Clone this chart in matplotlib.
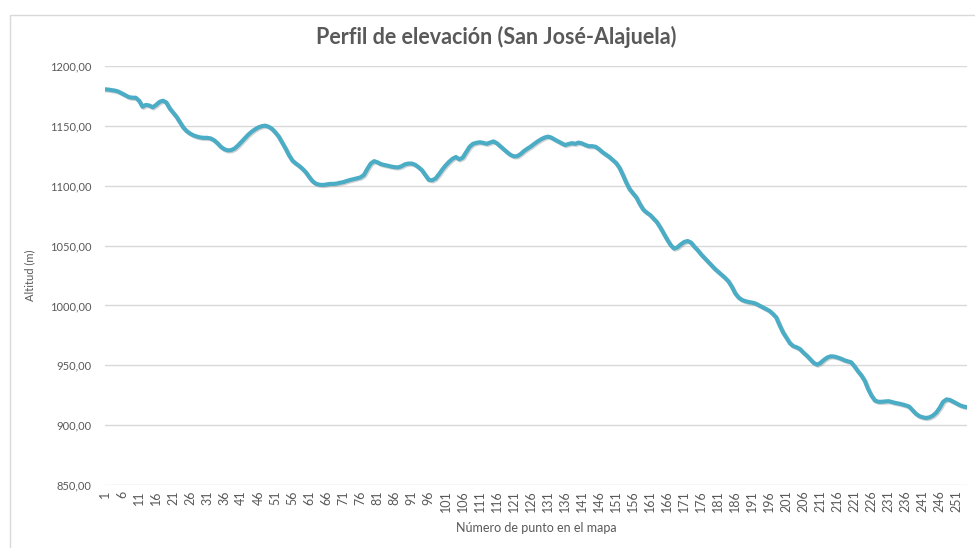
import matplotlib
matplotlib.use('Agg')
import matplotlib.pyplot as plt
import matplotlib.patheffects as pe
from matplotlib.ticker import FuncFormatter
from matplotlib.patches import Rectangle

# Elevation, point 1..254
elevation = [
    1180.5, 1180.3, 1179.8, 1179.4, 1178.5, 1177.0, 1175.5, 1174.0, 1173.5, 1173.5,
    1171.0, 1166.0, 1167.5, 1167.0, 1165.5, 1167.5, 1170.0, 1171.0, 1169.5, 1164.5,
    1161.0, 1157.5, 1153.0, 1148.5, 1145.5, 1143.5, 1142.0, 1141.0, 1140.3, 1140.0,
    1140.0, 1139.5, 1138.0, 1135.5, 1132.5, 1130.5, 1129.5, 1129.7, 1131.0, 1133.5,
    1136.5, 1139.5, 1142.5, 1145.0, 1147.0, 1148.7, 1149.7, 1150.2, 1149.3, 1147.5,
    1144.5, 1141.0, 1136.0, 1131.0, 1125.5, 1121.0, 1118.5, 1116.5, 1114.0, 1111.0,
    1107.0, 1103.5, 1101.5, 1100.8, 1100.6, 1101.0, 1101.5, 1101.5, 1101.8, 1102.5,
    1103.0, 1104.0, 1104.8, 1105.5, 1106.2, 1107.0, 1109.0, 1114.0, 1118.5, 1120.5,
    1119.5, 1118.0, 1117.3, 1116.7, 1116.0, 1115.5, 1115.3, 1116.2, 1117.8, 1118.5,
    1118.5, 1117.5, 1115.5, 1113.0, 1109.0, 1105.0, 1104.5, 1106.0, 1109.5, 1113.5,
    1117.0, 1120.0, 1122.5, 1124.0, 1122.0, 1123.5, 1128.0, 1132.5, 1135.0, 1135.8,
    1136.3, 1135.8, 1135.0, 1136.0, 1137.0, 1135.5, 1133.0, 1130.5, 1128.0, 1125.8,
    1124.5, 1124.7, 1126.5, 1129.0, 1131.0, 1132.8, 1135.0, 1137.0, 1138.8, 1140.2,
    1141.0, 1140.2, 1138.5, 1137.0, 1135.5, 1134.0, 1134.8, 1135.5, 1135.0, 1136.0,
    1135.3, 1134.0, 1133.0, 1133.0, 1132.5, 1130.5, 1128.0, 1126.0, 1124.0, 1121.5,
    1119.0, 1115.0, 1109.0, 1102.5, 1097.0, 1093.5, 1090.0, 1084.5, 1080.0, 1077.5,
    1075.5, 1072.5, 1069.5, 1065.0, 1060.0, 1055.0, 1050.5, 1047.5, 1048.5, 1051.0,
    1053.0, 1053.8, 1052.5, 1049.0, 1046.0, 1042.5, 1039.5, 1036.5, 1033.5, 1030.5,
    1028.0, 1025.5, 1023.0, 1020.0, 1015.5, 1010.0, 1006.5, 1004.5, 1003.5, 1002.8,
    1002.3, 1001.5, 1000.0, 998.5, 997.0, 995.5, 993.0, 990.0, 983.5, 977.5,
    973.0, 968.5, 966.0, 965.0, 963.5, 960.5, 958.0, 955.0, 952.0, 950.5,
    952.0, 954.5, 956.5, 957.5, 957.3, 956.5, 955.5, 954.2, 953.3, 952.5,
    949.0, 945.0, 941.5, 937.0, 930.0, 924.5, 920.5, 919.5, 919.5, 919.8,
    920.0, 919.3, 918.5, 918.0, 917.3, 916.5, 915.5, 912.5, 909.5, 907.5,
    906.5, 906.0, 906.5, 908.0, 910.5, 914.5, 919.5, 921.5, 921.0, 919.5,
    918.0, 916.5, 915.5, 915.0,
]
points = list(range(1, len(elevation) + 1))
tick_points = points[::5]
y_ticks = [850, 900, 950, 1000, 1050, 1100, 1150, 1200]

plt.rcParams['font.family'] = ['Lato', 'DejaVu Sans']
text_grey = '#595959'

fig = plt.figure(figsize=(9.75, 5.48), dpi=100)
fig.patches.append(Rectangle((10 / 975, -0.1), 1.2, (548 - 15) / 548 + 0.1,
                             transform=fig.transFigure, fill=False,
                             edgecolor='#D9D9D9', linewidth=1))

ax = fig.add_axes([105 / 975, 1 - 485 / 548, (967 - 105) / 975, (485 - 66) / 548])
ax.plot(points, elevation, color='#4BACC6', linewidth=3.0, solid_capstyle='round',
        path_effects=[pe.SimpleLineShadow(offset=(0.8, -0.8), shadow_color='#7f7f7f', alpha=0.35),
                      pe.Normal()])

ax.set_xlim(1, len(elevation))
ax.set_ylim(850, 1200)
ax.set_yticks(y_ticks)
ax.yaxis.set_major_formatter(FuncFormatter(lambda v, p: f'{v:.2f}'.replace('.', ',')))
ax.set_xticks(tick_points)
ax.set_xticklabels([str(t) for t in tick_points], rotation=90)
ax.grid(axis='y', color='#D9D9D9', linewidth=1)
ax.set_axisbelow(True)
for s in ax.spines.values():
    s.set_visible(False)
ax.tick_params(length=0, colors=text_grey, labelsize=9)
ax.tick_params(axis='y', pad=9.5, labelsize=8)
ax.tick_params(axis='x', pad=4)

ax.set_ylabel('Altitud (m)', color=text_grey, fontsize=8, labelpad=11)
ax.set_xlabel('Número de punto en el mapa', color=text_grey, fontsize=9, labelpad=7)
fig.text(496 / 975, 1 - 37 / 548, 'Perfil de elevación (San José-Alajuela)',
         ha='center', va='center', fontsize=15.5, fontweight='bold', color=text_grey)

fig.savefig('out.png', dpi=100)
